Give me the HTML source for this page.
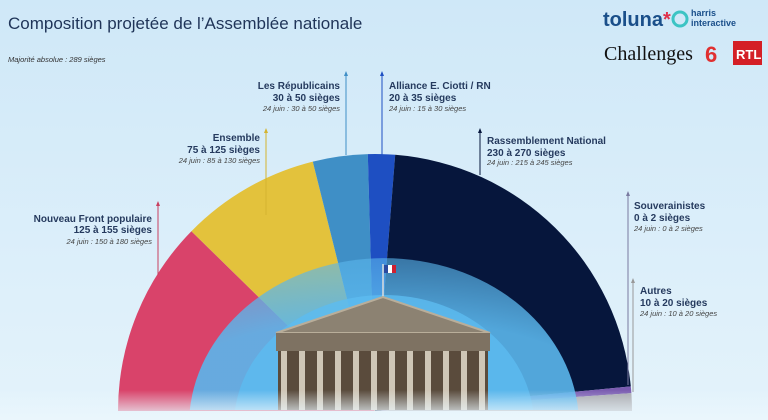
<!DOCTYPE html>
<html><head><meta charset="utf-8"><style>
html,body{margin:0;padding:0;width:768px;height:420px;overflow:hidden;background:#d6ecf8;font-family:"Liberation Sans",sans-serif}
svg{display:block}
</style></head><body>
<svg width="768" height="420" viewBox="0 0 768 420" xmlns="http://www.w3.org/2000/svg" font-family="Liberation Sans, sans-serif">
<defs>
<radialGradient id="ring" cx="0.5" cy="1" r="1"><stop offset="0.6" stop-color="#5ab6ec" stop-opacity="0.9"/><stop offset="1" stop-color="#5ab6ec" stop-opacity="0.6"/></radialGradient>
<linearGradient id="bg" x1="0" y1="0" x2="0" y2="1"><stop offset="0" stop-color="#cfe8f8"/><stop offset="1" stop-color="#e4f3fb"/></linearGradient>
<linearGradient id="fade" x1="0" y1="0" x2="0" y2="1"><stop offset="0" stop-color="#eaf6fc" stop-opacity="0"/><stop offset="1" stop-color="#eaf6fc" stop-opacity="1"/></linearGradient>
</defs>
<rect width="768" height="420" fill="url(#bg)"/>
<text x="8" y="29" font-size="17" fill="#1f3458">Composition projetée de l’Assemblée nationale</text>
<text x="8" y="62" font-size="7.5" font-style="italic" fill="#333">Majorité absolue : 289 sièges</text>
<text x="603" y="26" font-size="20" font-weight="bold" fill="#1a4f8a">toluna<tspan fill="#e0304a">*</tspan></text>
<circle cx="680" cy="19" r="7" fill="none" stroke="#3cc4c4" stroke-width="3"/>
<text x="691" y="16" font-size="9" font-weight="bold" fill="#1a4f8a">harris</text>
<text x="691" y="26" font-size="9" font-weight="bold" fill="#1a4f8a">interactive</text>
<text x="604" y="60" font-size="20" font-family="Liberation Serif, serif" fill="#111">Challenges</text>
<text x="705" y="62" font-size="22" font-weight="bold" fill="#e03030">6</text>
<rect x="733" y="41" width="29" height="24" fill="#d41f26"/>
<text x="736" y="59" font-size="13" font-weight="bold" fill="#fff">RTL</text>
<path d="M375,411 L118,411 A257,257 0 0 1 191.4,231.2Z" fill="#d9436a"/>
<path d="M375,411 L191.4,231.2 A257,257 0 0 1 312.8,161.6Z" fill="#e3c23c"/>
<path d="M375,411 L312.8,161.6 A257,257 0 0 1 367.8,154.1Z" fill="#3f8fc6"/>
<path d="M375,411 L367.8,154.1 A257,257 0 0 1 395.2,154.8Z" fill="#1e4fc2"/>
<path d="M375,411 L395.2,154.8 A257,257 0 0 1 630.8,386.4Z" fill="#06163c"/>
<path d="M375,411 L630.8,386.4 A257,257 0 0 1 631.4,393.1Z" fill="#7a5bb0"/>
<path d="M375,411 L631.4,393.1 A257,257 0 0 1 632,411Z" fill="#a8a8ad"/>
<path d="M189.8,410 A195,167 0 0 1 578.2,410 Z" fill="url(#ring)"/>
<path d="M235,410 A150,130 0 0 1 533,410 Z" fill="#5dbcf0" opacity="0.8"/>
<line x1="383" y1="297" x2="383" y2="264" stroke="#ddd" stroke-width="1.5"/>
<rect x="384" y="265" width="4" height="8" fill="#2a4aa0"/><rect x="388" y="265" width="4" height="8" fill="#fff"/><rect x="392" y="265" width="4" height="8" fill="#d02030"/>
<polygon points="276,333 383,297 490,333" fill="#8c8272" stroke="#b9ae9a" stroke-width="2"/>
<rect x="276" y="333" width="214" height="18" fill="#7e7262"/>
<rect x="278" y="351" width="210" height="59" fill="#5a4b3c"/>
<g fill="#cfc6b6">
<rect x="281" y="351" width="6" height="59"/><rect x="299" y="351" width="6" height="59"/><rect x="317" y="351" width="6" height="59"/><rect x="335" y="351" width="6" height="59"/><rect x="353" y="351" width="6" height="59"/><rect x="371" y="351" width="6" height="59"/><rect x="389" y="351" width="6" height="59"/><rect x="407" y="351" width="6" height="59"/><rect x="425" y="351" width="6" height="59"/><rect x="443" y="351" width="6" height="59"/><rect x="461" y="351" width="6" height="59"/><rect x="479" y="351" width="6" height="59"/>
</g>
<rect x="0" y="390" width="768" height="30" fill="url(#fade)"/>
<g stroke-width="1">
<line x1="158" y1="205" x2="158" y2="275" stroke="#c84060"/><polygon points="156,206 160,206 158,201" fill="#c84060"/>
<line x1="266" y1="132" x2="266" y2="215" stroke="#d4b430"/><polygon points="264,133 268,133 266,128" fill="#d4b430"/>
<line x1="346" y1="75" x2="346" y2="155" stroke="#3f8fc6"/><polygon points="344,76 348,76 346,71" fill="#3f8fc6"/>
<line x1="382" y1="75" x2="382" y2="155" stroke="#1e4fc2"/><polygon points="380,76 384,76 382,71" fill="#1e4fc2"/>
<line x1="480" y1="132" x2="480" y2="175" stroke="#06163c"/><polygon points="478,133 482,133 480,128" fill="#06163c"/>
<line x1="628" y1="195" x2="628" y2="385" stroke="#7a7aa0"/><polygon points="626,196 630,196 628,191" fill="#7a7aa0"/>
<line x1="633" y1="282" x2="633" y2="392" stroke="#999"/><polygon points="631,283 635,283 633,278" fill="#999"/>
</g>
<g fill="#253a5e" font-size="10" font-weight="bold">
<text x="152" y="222" text-anchor="end">Nouveau Front populaire</text><text x="152" y="233" text-anchor="end">125 à 155 sièges</text>
<text x="260" y="141" text-anchor="end">Ensemble</text><text x="260" y="153" text-anchor="end">75 à 125 sièges</text>
<text x="340" y="89" text-anchor="end">Les Républicains</text><text x="340" y="101" text-anchor="end">30 à 50 sièges</text>
<text x="389" y="89">Alliance E. Ciotti / RN</text><text x="389" y="101">20 à 35 sièges</text>
<text x="487" y="144">Rassemblement National</text><text x="487" y="156">230 à 270 sièges</text>
<text x="634" y="209">Souverainistes</text><text x="634" y="221">0 à 2 sièges</text>
<text x="640" y="294">Autres</text><text x="640" y="306">10 à 20 sièges</text>
</g>
<g fill="#444" font-size="7.5" font-style="italic">
<text x="152" y="244" text-anchor="end">24 juin : 150 à 180 sièges</text>
<text x="260" y="163" text-anchor="end">24 juin : 85 à 130 sièges</text>
<text x="340" y="111" text-anchor="end">24 juin : 30 à 50 sièges</text>
<text x="389" y="111">24 juin : 15 à 30 sièges</text>
<text x="487" y="165">24 juin : 215 à 245 sièges</text>
<text x="634" y="231">24 juin : 0 à 2 sièges</text>
<text x="640" y="316">24 juin : 10 à 20 sièges</text>
</g>
</svg>
</body></html>
